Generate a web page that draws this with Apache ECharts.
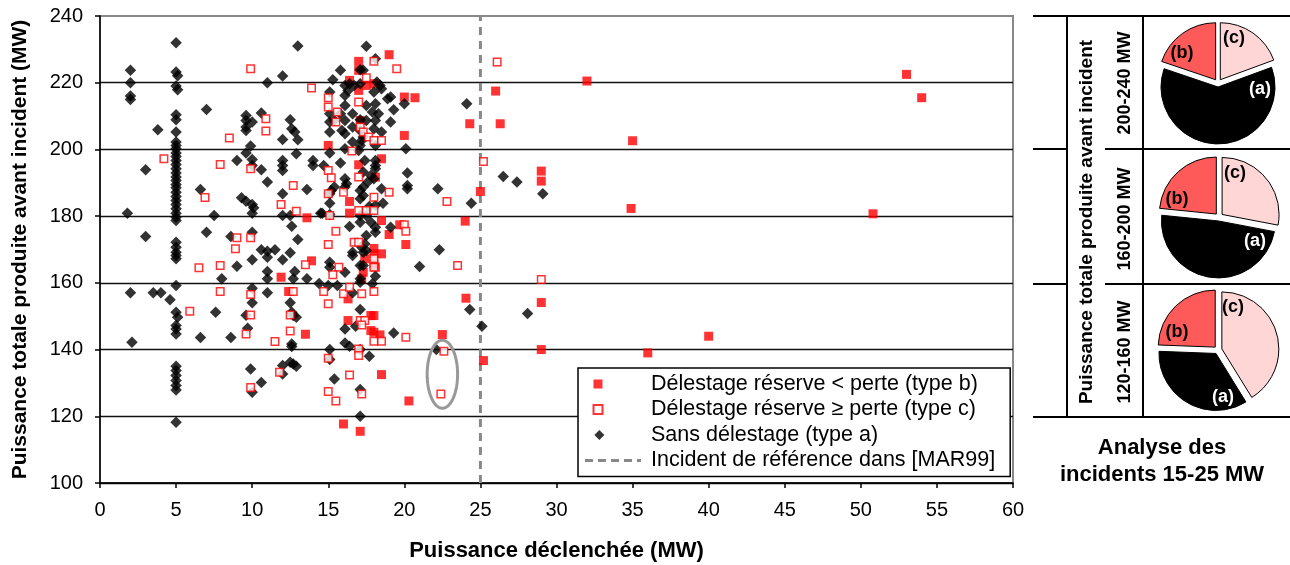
<!DOCTYPE html>
<html><head><meta charset="utf-8">
<script src="https://cdn.jsdelivr.net/npm/echarts@6/dist/echarts.min.js"></script>
<style>html,body{margin:0;padding:0;background:#fff}#c{width:1290px;height:565px}</style>
</head><body><div id="c"></div>
<script>
// ---------- DATA ----------
const xTickLabels = [0,5,10,15,20,25,30,35,40,45,50,55,60];
const yTickLabels = [100,120,140,160,180,200,220,240];

const nameB = 'Délestage réserve < perte (type b)';
const nameC = 'Délestage réserve ≥ perte (type c)';
const nameA = 'Sans délestage (type a)';
const nameRef = 'Incident de référence dans [MAR99]';

// type b : délestage, réserve < perte (red filled squares)
const typeB = [
[13.6,179.5],[15,201.2],[13.9,166.6],[11.9,161.7],[12.4,157.4],[13.5,144.6],
[19,228.4],[17,226.4],[17,223.7],[16.4,220.7],[17.5,219.2],[18,219.7],[17,217.7],[20,215.7],[20.7,215.5],[26,217.5],
[24.3,207.7],[26.3,207.7],[17.1,208.7],[20,204.2],[18.5,197.2],[17,195.4],[18.1,191.7],[25,187.4],[16.4,184.4],
[16.4,180.9],[18.5,178.7],[19.7,177.4],[19,174.5],[24,178.5],[20.1,171.5],[18,170.3],
[18,168.7],[18,165.7],[17.4,167.2],[18.1,164.7],[18.5,168.7],[17.3,163.2],[17.2,161.2],[16.3,155.2],[24.05,155.4],
[16.3,148.7],[17.8,150.2],[18,150.2],[17.8,145.7],[18,145.2],[18.4,144.4],[22.5,144.5],[25.2,136.7],[18.5,132.5],
[20.3,124.6],[16,117.7],[17.1,115.5],
[32,220.5],[53,222.5],[54,215.5],[35,202.6],[29,193.5],[29,190.5],[34.9,182.3],[50.8,180.7],
[29,154.1],[29,140],[36,139],[40,144]
];

// type c : délestage, réserve >= perte (red open squares)
const typeC = [
[9.9,224.2],[13.9,218.4],[10.9,209.2],[10.9,205.5],[8.5,203.4],[4.2,197.2],[7.9,195.5],[9.9,194.2],[12.7,189.2],
[6.9,185.6],[11.9,183.5],[12.9,181.5],[9,173.5],[9.9,173.5],[8.9,170.2],
[6.5,164.5],[7.9,165.2],[13.5,165.4],[7.9,157.4],[9.9,156.5],[12.7,157.4],[14.7,157.4],[5.9,151.5],[9.9,150.4],
[12.5,150.4],[9.6,144.7],[12.5,145.6],[11.5,142.4],[11.8,133.2],[9.9,128.6],
[18,226.4],[19.5,224.2],[26.1,226.2],[17.5,221.5],[15,215.5],[15,212.7],[17,214.2],[15.6,211.2],[15.5,208.2],
[17.1,206.7],[17.3,205.2],[17.65,203.7],[18,202.7],[18.5,202.7],[16.55,199.5],[25.2,196.4],[15,193.7],[15.2,191.5],
[15,186.7],[17,191.7],[16,187.2],[19,187.2],[22.8,184.4],[18,185.7],[17,181.7],[17.5,181.7],[18,181.7],[15.1,180.2],
[20,177.4],[20.1,175.5],[15.5,175.5],[15,171.5],[16.7,172.2],[17,172.2],
[15.7,164.7],[15.3,162.4],[18,167.2],[18,164.7],[23.5,165.2],[15,153.7],[16,156.7],[17.2,156.7],[18,157.4],
[16.4,158.7],[17.1,148.7],[17.4,148.7],[17.2,147.4],[18,142.5],[18.5,142.5],[20.1,143.7],[15,137.4],[17,140.2],
[17,138.2],[16.4,132.4],[15,127.4],[15.5,124.6],[17.2,126.7],[22.6,139.5],[22.4,126.7],
[29,161]
];

// type a : sans délestage (black diamonds)
const typeA = [
[5,232],[13,231],[2,223.7],[2,220],[2,216],[2,215],[5,223.2],[5.1,222.1],[5,219],[5.1,217.9],[11,220],[12,222],
[7,212],[5,210.4],[5,208.9],[9.6,210.2],[9.6,208.7],[10,208.2],[9.6,206.7],[9.6,205.7],[10.6,210.9],[12.5,208.9],
[12.6,206.2],[12.8,205.2],[13,202.9],[3.8,205.9],[5,205.2],[12,203],
[5,202.2],[5,201.2],[5,200.2],[5,198.9],[5,197.9],[5,196.7],[5,195.5],[5,194.2],[5,192.9],[5,191.7],[5,190.7],
[5,189.5],[5,188.5],[5,187.2],[5,185.9],[5,184.7],[5,183.5],[5,182.2],[5,180.9],[5,179.7],[5,178.7],
[9.9,201],[9.6,198.9],[9,196.7],[10,197],[10,195.2],[10.6,193.9],[12,196.7],[12,195.2],[12,193.7],[12.9,198.7],
[14,196.7],[14,195.2],[14.7,195.2],[3,193.9],[11,190.2],[13.6,188],[6.6,188],[12,186.7],[9.3,185.5],[9.6,184.5],
[10,183.5],[10.1,182.5],[10,180.9],[12,180.2],[12.5,180.2],[12.6,177],[14.5,180.9],[1.8,180.9],[7.5,180.2],
[3,173.9],[7,175.2],[8.6,173.9],[10,175.2],[13,173],[5,172.2],[5,170.7],[10.6,169.9],[11,169.5],[11.5,169.9],
[5,169.2],[5,168.2],[5,167.2],[11,167.7],[12.5,169],[10,166.9],[9,165],[12,166.9],[11,163.4],[11,161.2],
[12.8,163.4],[12.7,161.2],[13.6,161.2],[14.4,159.8],[8,161.2],[5,159.2],[2,157],[3.5,157],[4,157],[4.6,154.9],
[10,158.4],[10,154],[11,157],[12.5,154],[5,151.2],[5.1,149.7],[5,147.2],[5,146.2],[5,144.7],[7.6,151.2],
[9.6,150.3],[12.6,151.2],[12.7,150.2],[12.9,149.7],[9.7,146.4],[6.6,143.6],[8.6,143.6],[2.1,142.2],[12.6,141.7],
[12.6,140.9],[5,135],[5,133.7],[5,132.2],[5,130.7],[5,129.2],[5,127.9],[9.9,134.2],[12,135.2],[12,132.7],
[12.5,136.2],[12.7,135.7],[12.9,135],[10.6,130.1],[10,127.2],[5,118.2],
[17.5,230.9],[18.1,227.2],[15.8,223.7],[15.3,220.9],[17.1,223.9],[17.3,223.7],[16.1,219.2],[16.4,219.7],
[16.7,219.2],[16.3,217.7],[17.1,219.7],[18.2,220.2],[18.4,219.2],[18.5,218.2],[18,217.2],[15.1,217.2],[16.1,216.2],
[19.1,215.7],[18.9,215.2],[20,213.7],[24.1,213.7],[16.1,213.2],[17.5,213.2],[18.1,213.7],[15.1,210.7],[15.8,210.7],
[16.6,210.7],[17.9,211.2],[18.3,210.7],[19.3,211.9],[15.1,208.2],[15.4,208.7],[16.1,208.7],[17.1,208.9],[17.5,208.7],
[18.1,208.7],[19.1,208.2],[15.1,205.2],[15.9,205.7],[16.1,204.7],[16.6,206.7],[17.1,205.7],[18,206.2],[18.5,205.2],
[17.2,202.7],[17.1,201.2],[17,199.7],[17.3,203.7],[16.6,202.2],[16.1,200.2],[18.1,201.2],[20.1,200.2],[15.1,198.9],
[15.8,195.9],[17.4,196.7],[18.1,196.7],[18.1,195.2],[18.1,194.2],[17.3,193.2],[20.2,192.9],[16.1,191.2],[16.2,189.7],
[16.1,188.7],[17.8,192.2],[18,191.2],[17.6,190.2],[17.3,188.7],[17.1,187.7],[15.4,188.7],[15.2,187.7],[15.1,186.7],
[18.5,188.2],[20.2,189.2],[20.2,188.2],[22.2,188.2],[26.5,191.9],[27.4,190.2],[15.1,183.9],[17.1,185.2],[17.3,186.2],
[17.7,182.9],[18.1,183.2],[18.6,183.9],[24.4,183.9],[14.6,180.9],[15.1,180.5],[17.1,180.2],[17.5,180.2],[17.1,178.2],
[17.8,178.2],[18.1,176.7],[18.1,175.2],[16.4,176.9],[19.1,176.7],[17.5,174.2],[17.4,171.7],[17.2,170.7],[17.5,169.7],
[16.6,169.2],[22.3,169.9],
[16.6,168.2],[17.3,169.2],[15.1,166.2],[15.1,164.7],[17.1,165.2],[17.3,165.2],[21,164.9],[16.1,163.2],[18.1,162],
[17.1,161.2],[17.1,160.2],[17.9,159.7],[15,159.2],[15.6,159.2],[16.6,157],[17.1,152],[24.3,152],[16.8,147],
[16.1,146.2],[19.3,145],[25.1,147],[16.1,142],[16.4,141],[15.1,140],[15.1,137],[17.1,140],[17.7,138],[22.1,140],
[15.4,131.2],[17.1,128],[17.1,120],
[29.1,186.7],[28.1,150.8]
];

const referenceIncident = 25;                 // MW, [MAR99]
const highlightZone = [22.5, 132.6, 1.0, 10.2]; // centre x, centre y, half-width, half-height (data units)

// pie charts: analyse des incidents 15-25 MW
const pieRanges = ['200-240 MW', '160-200 MW', '120-160 MW'];
const pieShareC = [19.4, 28.0, 41.2];
const pieShareA = [60.8, 48.6, 34.4];
const pieShareB = [19.8, 23.4, 24.4];
const sliceLabels = ['(c)', '(a)', '(b)'];

// ---------- LAYOUT / STYLE ----------
const FONT = '"Liberation Sans", Arial, sans-serif';
const pieCenters = [[1218, 83], [1219, 217], [1218, 350]];
const pieLabelOffsets = [
  [[16,-45],[42,6],[-36,-30]],
  [[16,-44],[36,24],[-42,-18]],
  [[15,-43],[5,47],[-41,-18]]
];
const sliceColors = ['#FFD6D6', '#000000', '#FF5A5A'];
const sliceTextColors = ['#000', '#fff', '#000'];

const iconSquare = 'path://M0,0L0,0M56,10L56,10M8.5,0.5L17.5,0.5L17.5,9.5L8.5,9.5Z';
const iconDiamond = 'path://M0,0L0,0M56,10L56,10M13,-0.5L18.5,5L13,10.5L7.5,5Z';
const iconDash = 'path://M0,0L0,0M56,10L56,10M0,3.5h8v3h-8zM13,3.5h8v3h-8zM26,3.5h8v3h-8zM39,3.5h8v3h-8zM52,3.5h4v3h-4z';

const pieSeries = pieRanges.map((r, i) => ({
  type: 'pie',
  name: r,
  center: pieCenters[i],
  radius: 57,
  startAngle: 90,
  clockwise: true,
  selectedMode: 'multiple',
  selectedOffset: 4,
  silent: true,
  animation: false,
  emphasis: { disabled: true },
  select: { itemStyle: { borderColor: '#000', borderWidth: 1 } },
  itemStyle: { borderColor: '#000', borderWidth: 1 },
  label: { show: false },
  labelLine: { show: false },
  data: [pieShareC[i], pieShareA[i], pieShareB[i]].map((v, k) => ({
    name: sliceLabels[k], value: v, selected: true,
    itemStyle: { color: sliceColors[k] },
    select: { itemStyle: { color: sliceColors[k] } }
  }))
}));

function line(x1, y1, x2, y2) {
  return { type: 'line', shape: { x1, y1, x2, y2 }, style: { stroke: '#000', lineWidth: 2 }, silent: true };
}
function txt(x, y, text, size, rot, color) {
  return { type: 'text', x, y, rotation: rot || 0, silent: true, z: 100,
    style: { text, font: 'bold ' + size + 'px ' + FONT, fill: color || '#000',
      align: 'center', verticalAlign: 'middle', textAlign: 'center', textVerticalAlign: 'middle' } };
}

// slice labels of the pies (real text)
const pieLabelGraphics = [];
pieRanges.forEach((r, i) => {
  sliceLabels.forEach((lab, k) => {
    const o = pieLabelOffsets[i][k];
    pieLabelGraphics.push(txt(pieCenters[i][0] + o[0], pieCenters[i][1] + o[1], lab, 18, 0, sliceTextColors[k]));
  });
});

const chart = echarts.init(document.getElementById('c'), null, { renderer: 'canvas' });
const option = {
  animation: false,
  backgroundColor: '#fff',
  textStyle: { fontFamily: FONT, color: '#000' },
  grid: { left: 100, right: 277, top: 16, bottom: 82, show: true, borderColor: '#888', borderWidth: 2,
          containLabel: false, outerBoundsMode: 'none' },
  xAxis: {
    type: 'value', min: xTickLabels[0], max: xTickLabels[xTickLabels.length - 1],
    interval: xTickLabels[1] - xTickLabels[0],
    name: 'Puissance déclenchée (MW)', nameLocation: 'middle', nameGap: 57,
    nameTextStyle: { fontFamily: FONT, fontWeight: 'bold', fontSize: 22, color: '#000' },
    axisLine: { show: true, onZero: false, lineStyle: { color: '#000', width: 1.5 } },
    axisTick: { show: true, inside: false, length: 5, lineStyle: { color: '#000', width: 1.5 } },
    axisLabel: { fontSize: 20, color: '#000', margin: 17, fontFamily: FONT },
    splitLine: { show: false }
  },
  yAxis: {
    type: 'value', min: yTickLabels[0], max: yTickLabels[yTickLabels.length - 1],
    interval: yTickLabels[1] - yTickLabels[0],
    name: 'Puissance totale produite avant incident (MW)', nameLocation: 'middle', nameGap: 69,
    nameTextStyle: { fontFamily: FONT, fontWeight: 'bold', fontSize: 21, color: '#000' },
    axisLine: { show: true, onZero: false, lineStyle: { color: '#000', width: 1.5 } },
    axisTick: { show: true, inside: false, length: 5, lineStyle: { color: '#000', width: 1.5 } },
    axisLabel: { fontSize: 20, color: '#000', margin: 17, fontFamily: FONT },
    splitLine: { show: true, showMaxLine: false, lineStyle: { color: '#111', width: 1.4 } }
  },
  legend: {
    orient: 'vertical', left: 578, top: 368,
    backgroundColor: '#fff', borderColor: '#000', borderWidth: 1.5,
    padding: [5, 15, 5, 6], itemGap: 3.5, itemWidth: 56, itemHeight: 10,
    symbolKeepAspect: true, selectedMode: false,
    textStyle: { fontSize: 21.5, lineHeight: 22, color: '#000', fontFamily: FONT, padding: [0, 0, 0, 5] },
    data: [
      { name: nameB, icon: iconSquare },
      { name: nameC, icon: iconSquare },
      { name: nameA, icon: iconDiamond },
      { name: nameRef, icon: iconDash }
    ]
  },
  series: [
    { type: 'scatter', name: nameB, data: typeB, symbol: 'rect', symbolSize: 9, z: 3,
      itemStyle: { color: '#FF0000' }, emphasis: { disabled: true } },
    { type: 'scatter', name: nameA, data: typeA, symbol: 'diamond', symbolSize: 11.5, z: 4,
      itemStyle: { color: '#000000' }, emphasis: { disabled: true } },
    { type: 'scatter', name: nameC, data: typeC, symbol: 'rect', symbolSize: 7.5, z: 5,
      itemStyle: { color: '#FFFFFF', borderColor: '#FF0000', borderWidth: 1.5 }, emphasis: { disabled: true } },
    { type: 'line', name: nameRef, z: 2, symbol: 'none', showSymbol: false,
      data: [[referenceIncident, yTickLabels[0]], [referenceIncident, yTickLabels[yTickLabels.length - 1]]],
      itemStyle: { color: '#888' },
      lineStyle: { color: '#888', width: 3, type: [8, 6] }, emphasis: { disabled: true } },
    { type: 'custom', name: 'zone', coordinateSystem: 'cartesian2d', z: 6, silent: true, clip: false,
      data: [highlightZone], encode: { x: 0, y: 1 },
      renderItem: function (params, api) {
        const c = api.coord([api.value(0), api.value(1)]);
        const s = api.size([api.value(2), api.value(3)]);
        const pts = [];
        for (let k = 0; k < 90; k++) {
          const t = k / 90 * 2 * Math.PI;
          pts.push([c[0] + s[0] * Math.cos(t), c[1] + s[1] * Math.sin(t)]);
        }
        return { type: 'polygon', shape: { points: pts }, style: { fill: 'none', stroke: '#999', lineWidth: 3 } };
      } }
  ].concat(pieSeries),
  graphic: [
    line(1033, 16, 1290, 16), line(1033, 417, 1290, 417),
    line(1067, 16, 1067, 417), line(1143, 16, 1143, 417),
    line(1033, 149, 1067, 149), line(1105, 149, 1290, 149),
    line(1033, 284, 1067, 284), line(1105, 284, 1290, 284),
    txt(1087, 222, 'Puissance totale produite avant incident', 19, Math.PI / 2),
    txt(1125, 83, pieRanges[0], 18, Math.PI / 2),
    txt(1125, 219, pieRanges[1], 18, Math.PI / 2),
    txt(1125, 352, pieRanges[2], 18, Math.PI / 2),
    txt(1162, 448, 'Analyse des', 22),
    txt(1162, 475, 'incidents 15-25 MW', 22)
  ].concat(pieLabelGraphics)
};
chart.setOption(option);
</script>
</body></html>
